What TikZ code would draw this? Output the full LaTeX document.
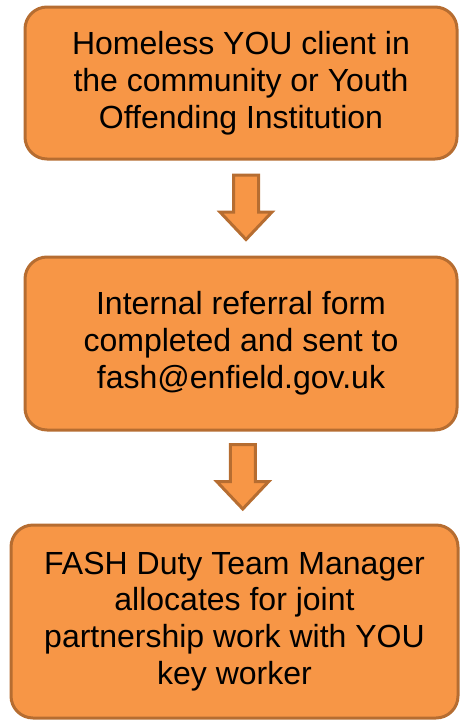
\documentclass[tikz,border=0pt]{standalone}
\usepackage{fontspec}
\setmainfont{Liberation Sans}
\usepackage{tikz}
\usetikzlibrary{shapes,arrows,positioning,calc}

\definecolor{boxfill}{HTML}{F79646}
\definecolor{boxline}{HTML}{B66D31}

\tikzset{
    stepbox/.style={draw=boxline, fill=boxfill, line width=3pt, rounded corners=22pt,
        align=center, inner sep=0pt, font=\fontsize{32}{36.8}\selectfont},
    downblock/.pic={
        \draw[draw=boxline, fill=boxfill, line width=3pt]
            (-12.5,33) -- (12.5,33) -- (12.5,-4) -- (26,-4) -- (0,-31.5)
            -- (-26,-4) -- (-12.5,-4) -- cycle;
    }
}

\begin{document}
\begin{tikzpicture}[x=1pt,y=1pt]
            \useasboundingbox (0,0) rectangle (460,-720);
            \node[stepbox, minimum width=432pt, minimum height=152pt] (client) at (241,-83)
                {Homeless YOU client in\\the community or Youth\\Offending Institution};
            \node[stepbox, minimum width=432pt, minimum height=173pt] (referral) at (241,-343.5)
                {Internal referral form\\completed and sent to\\fash@enfield.gov.uk};
            \node[stepbox, minimum width=447pt, minimum height=193pt] (manager) at (234.5,-621.5)
                {FASH Duty Team Manager\\allocates for joint\\partnership work with YOU\\key worker};
            \coordinate (arrowa) at ($(client.south)!0.5!(referral.north)$);
            \coordinate (arrowb) at ($(referral.south)!0.5!(manager.north)$);
            \pic at ([xshift=5pt]arrowa) {downblock};
            \pic at ([xshift=5pt]arrowb) {downblock};
        \end{tikzpicture}
\end{document}
